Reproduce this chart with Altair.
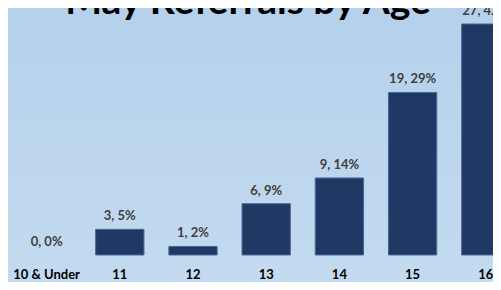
import altair as alt
import pandas as pd

categories = ["10 & Under", "11", "12", "13", "14", "15", "16"]
counts = [0, 3, 1, 6, 9, 19, 27]
percents = [0, 5, 2, 9, 14, 29, 42]
title_text = "May Referrals by Age"

df = pd.DataFrame({
    "age": categories,
    "count": counts,
    "label": [f"{c}, {p}%" for c, p in zip(counts, percents)],
})

W, H = 485, 247
FONT = "Lato"

bg = alt.Chart(pd.DataFrame({"a": [0]})).mark_rect(
    fill=alt.Gradient(
        gradient="linear",
        stops=[alt.GradientStop(color="#b4d0eb", offset=0),
               alt.GradientStop(color="#c4dbf0", offset=1)],
        x1=0, x2=0, y1=0, y2=1,
    )
).encode(x=alt.value(0), x2=alt.value(W), y=alt.value(-10), y2=alt.value(H + 40))

xenc = alt.X("age:N", sort=categories, title=None,
             scale=alt.Scale(range=[2, 514.4], paddingInner=0.34, paddingOuter=0.17),
             axis=None)
yenc = alt.Y("count:Q", title=None, scale=alt.Scale(domain=[0, 28.87], nice=False, zero=True),
             axis=None)

bars = alt.Chart(df).mark_bar(color="#203864", strokeWidth=1).encode(
    x=xenc, y=yenc,
    stroke=alt.condition("datum.count > 0", alt.value("#4a6898"), alt.value(None)))

labels = alt.Chart(df).mark_text(font=FONT, fontSize=13, fontWeight="bold", color="#404040",
                                 baseline="middle", dy=-13).encode(
    x=xenc, y=yenc, text="label:N")

cats = alt.Chart(df).mark_text(font=FONT, fontSize=13, fontWeight="bold", color="#000000",
                               baseline="middle").encode(
    x=xenc, y=alt.value(267), text="age:N")

title = alt.Chart(pd.DataFrame({"t": [title_text]})).mark_text(
    font=FONT, fontSize=39, fontWeight="bold", color="#000000",
    baseline="alphabetic", align="center").encode(
    x=alt.value(240), y=alt.value(6), text="t:N")

chart = alt.layer(bg, bars, labels, cats, title).properties(
    width=W, height=H,
    autosize=alt.AutoSizeParams(type="none"),
    padding={"left": 0, "top": 0, "right": 0, "bottom": 27},
    background="#bcd6ee",
).configure_view(stroke=None)

chart.save("out.html", embed_options={"renderer": "svg", "actions": False})
